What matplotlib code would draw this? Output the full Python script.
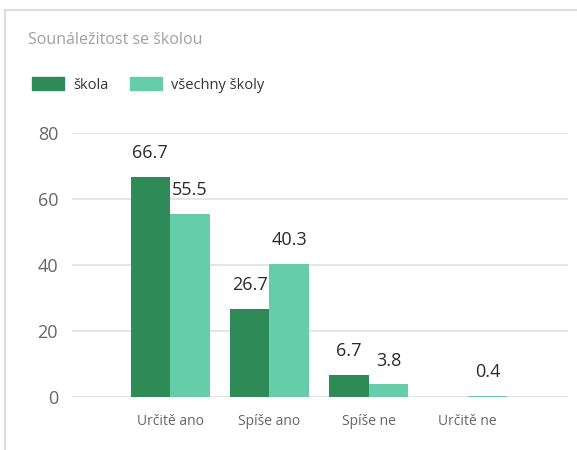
import numpy as np
import matplotlib
matplotlib.use("Agg")
import matplotlib.pyplot as plt
from matplotlib.patches import Patch
from matplotlib.lines import Line2D

plt.rcParams['font.family'] = ['Open Sans', 'DejaVu Sans']

categories = ["Určitě ano", "Spíše ano", "Spíše ne", "Určitě ne"]
skola = [66.7, 26.7, 6.7, 0.0]
vsechny = [55.5, 40.3, 3.8, 0.4]
series_names = ["škola", "všechny školy"]
colors = ["#2e8b57", "#66cdaa"]

fig = plt.figure(figsize=(5.77, 4.5), dpi=100)
ax = fig.add_axes([72 / 577, 1 - 397 / 450, 496 / 577, 264 / 450])

x = np.arange(len(categories))
w = 0.4
b1 = ax.bar(x - w / 2, skola, w, color=colors[0])
b2 = ax.bar(x + w / 2, vsechny, w, color=colors[1])

for bars, vals in ((b1, skola), (b2, vsechny)):
    for rect, v in zip(bars, vals):
        if v == 0:
            continue
        ax.annotate(f"{v:.1f}", (rect.get_x() + rect.get_width() / 2, v),
                    xytext=(0, 17), textcoords="offset points",
                    ha="center", va="center", fontsize=13, color="#2a2a2a")

ax.set_xlim(-0.99, 4.01)
ax.set_ylim(0, 80)
ax.set_yticks([0, 20, 40, 60, 80])
ax.set_xticks(x)
ax.set_xticklabels(categories)
ax.tick_params(axis="x", length=0, pad=12, labelsize=10, labelcolor="#666666")
ax.tick_params(axis="y", length=0, pad=10, labelsize=13, labelcolor="#666666")
ax.grid(axis="y", color="#e0e0e0", linewidth=1.2)
ax.set_axisbelow(True)
for s in ax.spines.values():
    s.set_visible(False)

fig.text(28 / 577, 1 - 40 / 450, "Sounáležitost se školou", fontsize=11.5,
         color="#a0a0a0", va="center", ha="left")

handles = [Patch(color=c) for c in colors]
fig.legend(handles, series_names, loc="center left",
           bbox_to_anchor=(32 / 577, 1 - 85 / 450), ncol=2, frameon=False,
           fontsize=10.5, handlelength=2.2, handleheight=1.0,
           handletextpad=0.6, columnspacing=1.5, labelcolor="#333333",
           borderpad=0, borderaxespad=0)

# card border
fig.add_artist(Line2D([4.5 / 577, 4.5 / 577], [0, 1 - 10 / 450],
                      transform=fig.transFigure, color="#dddddd", lw=1.5))
fig.add_artist(Line2D([4.5 / 577, 1], [1 - 10 / 450, 1 - 10 / 450],
                      transform=fig.transFigure, color="#dddddd", lw=1.5))

fig.savefig("out.png", dpi=100)
